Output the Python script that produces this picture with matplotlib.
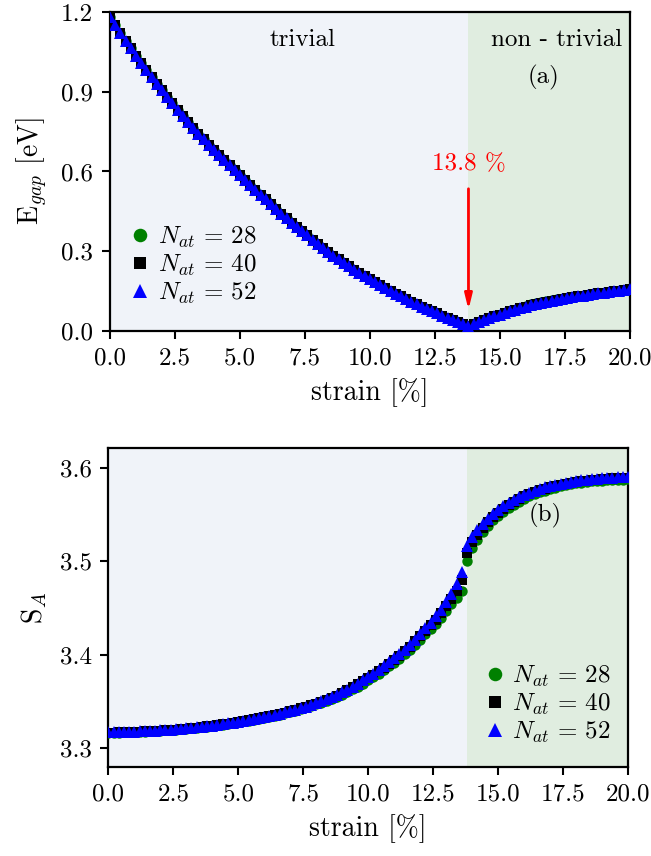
import matplotlib

matplotlib.use("Agg")
import matplotlib.pyplot as plt
from matplotlib.ticker import FormatStrFormatter

plt.rcParams["font.family"] = "serif"
plt.rcParams["font.serif"] = ["cmr10"]
plt.rcParams["mathtext.fontset"] = "cm"
plt.rcParams["axes.formatter.use_mathtext"] = True
plt.rcParams["axes.unicode_minus"] = False

# ---- data --------------------------------------------------------------- #
strain = [
    0.0, 0.2, 0.4, 0.6, 0.8, 1.0, 1.2, 1.4, 1.6, 1.8,
    2.0, 2.2, 2.4, 2.6, 2.8, 3.0, 3.2, 3.4, 3.6, 3.8,
    4.0, 4.2, 4.4, 4.6, 4.8, 5.0, 5.2, 5.4, 5.6, 5.8,
    6.0, 6.2, 6.4, 6.6, 6.8, 7.0, 7.2, 7.4, 7.6, 7.8,
    8.0, 8.2, 8.4, 8.6, 8.8, 9.0, 9.2, 9.4, 9.6, 9.8,
    10.0, 10.2, 10.4, 10.6, 10.8, 11.0, 11.2, 11.4, 11.6, 11.8,
    12.0, 12.2, 12.4, 12.6, 12.8, 13.0, 13.2, 13.4, 13.6, 13.8,
    14.0, 14.2, 14.4, 14.6, 14.8, 15.0, 15.2, 15.4, 15.6, 15.8,
    16.0, 16.2, 16.4, 16.6, 16.8, 17.0, 17.2, 17.4, 17.6, 17.8,
    18.0, 18.2, 18.4, 18.6, 18.8, 19.0, 19.2, 19.4, 19.6, 19.8,
    20.0,
]

# band gap [eV]; N=40 and N=52 coincide at this scale
egap_52 = [
    1.180, 1.150, 1.121, 1.092, 1.063, 1.035, 1.008, 0.981, 0.955, 0.930,
    0.905, 0.881, 0.857, 0.833, 0.809, 0.785, 0.763, 0.742, 0.721, 0.700,
    0.680, 0.661, 0.642, 0.623, 0.604, 0.585, 0.567, 0.549, 0.531, 0.513,
    0.495, 0.477, 0.460, 0.442, 0.425, 0.408, 0.392, 0.376, 0.360, 0.344,
    0.328, 0.313, 0.299, 0.284, 0.270, 0.256, 0.243, 0.231, 0.218, 0.206,
    0.194, 0.183, 0.172, 0.161, 0.151, 0.140, 0.130, 0.121, 0.111, 0.102,
    0.092, 0.084, 0.075, 0.067, 0.058, 0.050, 0.042, 0.034, 0.026, 0.018,
    0.027, 0.034, 0.041, 0.048, 0.055, 0.062, 0.068, 0.074, 0.080, 0.086,
    0.091, 0.096, 0.100, 0.104, 0.108, 0.112, 0.116, 0.120, 0.124, 0.127,
    0.130, 0.133, 0.136, 0.139, 0.142, 0.144, 0.147, 0.150, 0.152, 0.155,
    0.157,
]
egap_40 = list(egap_52)
egap_28 = [
    1.180, 1.150, 1.121, 1.092, 1.063, 1.035, 1.008, 0.981, 0.955, 0.930,
    0.905, 0.881, 0.857, 0.833, 0.809, 0.785, 0.763, 0.742, 0.721, 0.700,
    0.680, 0.661, 0.642, 0.623, 0.604, 0.585, 0.567, 0.549, 0.531, 0.513,
    0.495, 0.477, 0.460, 0.442, 0.425, 0.408, 0.392, 0.376, 0.360, 0.344,
    0.328, 0.313, 0.299, 0.284, 0.270, 0.256, 0.243, 0.231, 0.218, 0.206,
    0.194, 0.183, 0.172, 0.161, 0.151, 0.140, 0.130, 0.121, 0.111, 0.102,
    0.092, 0.084, 0.075, 0.067, 0.058, 0.050, 0.042, 0.034, 0.026, 0.018,
    0.027, 0.034, 0.041, 0.048, 0.055, 0.062, 0.068, 0.074, 0.080, 0.086,
    0.094, 0.100, 0.105, 0.109, 0.113, 0.116, 0.119, 0.121, 0.124, 0.127,
    0.130, 0.133, 0.136, 0.139, 0.142, 0.144, 0.147, 0.150, 0.152, 0.155,
    0.157,
]

# entanglement entropy S_A
sa_52 = [
    3.3167, 3.3168, 3.3170, 3.3172, 3.3174, 3.3176, 3.3178, 3.3181, 3.3184, 3.3187,
    3.3190, 3.3193, 3.3197, 3.3201, 3.3206, 3.3211, 3.3216, 3.3222, 3.3228, 3.3234,
    3.3241, 3.3248, 3.3255, 3.3263, 3.3271, 3.3280, 3.3289, 3.3299, 3.3309, 3.3320,
    3.3331, 3.3343, 3.3355, 3.3368, 3.3382, 3.3396, 3.3411, 3.3427, 3.3444, 3.3462,
    3.3481, 3.3501, 3.3522, 3.3544, 3.3570, 3.3597, 3.3626, 3.3657, 3.3690, 3.3724,
    3.3760, 3.3797, 3.3835, 3.3875, 3.3917, 3.3960, 3.4005, 3.4052, 3.4101, 3.4158,
    3.4220, 3.4280, 3.4342, 3.4408, 3.4480, 3.4560, 3.4648, 3.4750, 3.4885, 3.5160,
    3.5260, 3.5330, 3.5395, 3.5450, 3.5500, 3.5545, 3.5585, 3.5620, 3.5652, 3.5681,
    3.5707, 3.5731, 3.5752, 3.5771, 3.5788, 3.5803, 3.5817, 3.5829, 3.5840, 3.5850,
    3.5858, 3.5866, 3.5872, 3.5878, 3.5883, 3.5887, 3.5891, 3.5894, 3.5896, 3.5898,
    3.5900,
]
sa_40 = [
    3.3164, 3.3165, 3.3167, 3.3169, 3.3171, 3.3173, 3.3175, 3.3178, 3.3181, 3.3184,
    3.3187, 3.3190, 3.3194, 3.3198, 3.3203, 3.3208, 3.3213, 3.3219, 3.3225, 3.3231,
    3.3238, 3.3245, 3.3252, 3.3260, 3.3268, 3.3277, 3.3286, 3.3296, 3.3306, 3.3317,
    3.3328, 3.3340, 3.3352, 3.3365, 3.3379, 3.3393, 3.3408, 3.3424, 3.3441, 3.3459,
    3.3473, 3.3493, 3.3514, 3.3536, 3.3562, 3.3589, 3.3618, 3.3649, 3.3682, 3.3716,
    3.3745, 3.3782, 3.3820, 3.3860, 3.3902, 3.3945, 3.3990, 3.4037, 3.4086, 3.4143,
    3.4200, 3.4255, 3.4312, 3.4373, 3.4440, 3.4515, 3.4593, 3.4685, 3.4800, 3.5090,
    3.5200, 3.5280, 3.5353, 3.5414, 3.5470, 3.5519, 3.5562, 3.5600, 3.5634, 3.5665,
    3.5693, 3.5718, 3.5740, 3.5759, 3.5776, 3.5792, 3.5806, 3.5818, 3.5829, 3.5839,
    3.5848, 3.5856, 3.5862, 3.5868, 3.5873, 3.5877, 3.5881, 3.5884, 3.5886, 3.5888,
    3.5890,
]
sa_28 = [
    3.3162, 3.3163, 3.3165, 3.3167, 3.3169, 3.3171, 3.3173, 3.3176, 3.3179, 3.3182,
    3.3185, 3.3188, 3.3192, 3.3196, 3.3201, 3.3206, 3.3211, 3.3217, 3.3223, 3.3229,
    3.3236, 3.3243, 3.3250, 3.3258, 3.3266, 3.3275, 3.3284, 3.3294, 3.3304, 3.3315,
    3.3321, 3.3333, 3.3345, 3.3358, 3.3372, 3.3386, 3.3401, 3.3417, 3.3434, 3.3452,
    3.3466, 3.3485, 3.3504, 3.3524, 3.3548, 3.3572, 3.3598, 3.3627, 3.3658, 3.3690,
    3.3724, 3.3759, 3.3795, 3.3833, 3.3873, 3.3914, 3.3957, 3.4002, 3.4049, 3.4103,
    3.4160, 3.4215, 3.4272, 3.4330, 3.4394, 3.4465, 3.4538, 3.4610, 3.4680, 3.5000,
    3.5140, 3.5230, 3.5310, 3.5375, 3.5435, 3.5485, 3.5530, 3.5570, 3.5605, 3.5637,
    3.5667, 3.5692, 3.5715, 3.5735, 3.5754, 3.5771, 3.5787, 3.5800, 3.5812, 3.5823,
    3.5832, 3.5841, 3.5847, 3.5853, 3.5858, 3.5862, 3.5866, 3.5869, 3.5871, 3.5873,
    3.5875,
]

sizes = [28, 40, 52]
critical_strain = 13.8
xticks = [0.0, 2.5, 5.0, 7.5, 10.0, 12.5, 15.0, 17.5, 20.0]
egap_ticks = [0.0, 0.3, 0.6, 0.9, 1.2]
sa_ticks = [3.3, 3.4, 3.5, 3.6]

# ---- styling ------------------------------------------------------------- #
FS_TICK = 18
FS_LABEL = 20
styles = [("o", "green", 7.5), ("s", "black", 6.8), ("^", "blue", 8.0)]
TRIVIAL_BG = "#f0f3f9"
TOPO_BG = "#e0ede0"


def dress(ax, yticks, ylim):
    ax.axvspan(0, critical_strain, color=TRIVIAL_BG, lw=0, zorder=0)
    ax.axvspan(critical_strain, 20, color=TOPO_BG, lw=0, zorder=0)
    ax.set_xlim(0, 20)
    ax.set_ylim(*ylim)
    ax.set_xticks(xticks)
    ax.set_yticks(yticks)
    ax.xaxis.set_major_formatter(FormatStrFormatter("%.1f"))
    ax.yaxis.set_major_formatter(FormatStrFormatter("%.1f"))
    ax.tick_params(direction="out", length=6, width=1.5, labelsize=FS_TICK,
                   pad=6)
    for sp in ax.spines.values():
        sp.set_linewidth(1.6)
    ax.set_xlabel("strain [%]", fontsize=FS_LABEL, labelpad=6)


fig = plt.figure(figsize=(6.51, 8.56), dpi=100)
ax1 = fig.add_axes([0.169, 0.6133, 0.798, 0.3727])
ax2 = fig.add_axes([0.1664, 0.1043, 0.7984, 0.3723])

# (a) band gap
for (m, c, ms), n, y in zip(styles, sizes, [egap_28, egap_40, egap_52]):
    ax1.plot(strain, y, ls="none", marker=m, color=c, ms=ms, mew=0,
             label=rf"$N_{{at}}\,=\,{n}$", zorder=3)
dress(ax1, egap_ticks, (0.0, 1.2))
ax1.set_ylabel(r"E$_{gap}$ [eV]", fontsize=FS_LABEL, labelpad=8)
ax1.text(7.4, 1.095, "trivial", fontsize=FS_TICK, ha="center", va="center")
ax1.text(17.2, 1.095, "non - trivial", fontsize=FS_TICK, ha="center",
         va="center")
ax1.text(16.7, 0.955, "(a)", fontsize=FS_TICK, ha="center", va="center")
ax1.annotate("", xy=(critical_strain, 0.08), xytext=(critical_strain, 0.535),
             arrowprops=dict(arrowstyle="-|>,head_width=0.22,head_length=0.9",
                             color="red", lw=2, shrinkA=0, shrinkB=0))
ax1.text(critical_strain, 0.628, "13.8 %", color="red", fontsize=FS_TICK,
         ha="center", va="center")
ax1.legend(loc="lower left", bbox_to_anchor=(0.01, 0.03), frameon=False,
           fontsize=FS_TICK, handlelength=0.8, handletextpad=0.3,
           labelspacing=0.12, borderaxespad=0.2, markerscale=1.3)

# (b) entanglement entropy
for (m, c, ms), n, y in zip(styles, sizes, [sa_28, sa_40, sa_52]):
    ax2.plot(strain, y, ls="none", marker=m, color=c, ms=ms, mew=0,
             label=rf"$N_{{at}}\,=\,{n}$", zorder=3)
dress(ax2, sa_ticks, (3.28, 3.621))
ax2.set_ylabel(r"S$_A$", fontsize=FS_LABEL, labelpad=8)
ax2.text(16.8, 3.549, "(b)", fontsize=FS_TICK, ha="center", va="center")
ax2.legend(loc="lower left", bbox_to_anchor=(0.695, 0.02), frameon=False,
           fontsize=FS_TICK, handlelength=0.8, handletextpad=0.3,
           labelspacing=0.12, borderaxespad=0.2, markerscale=1.3)

fig.savefig("out.png", dpi=100)
